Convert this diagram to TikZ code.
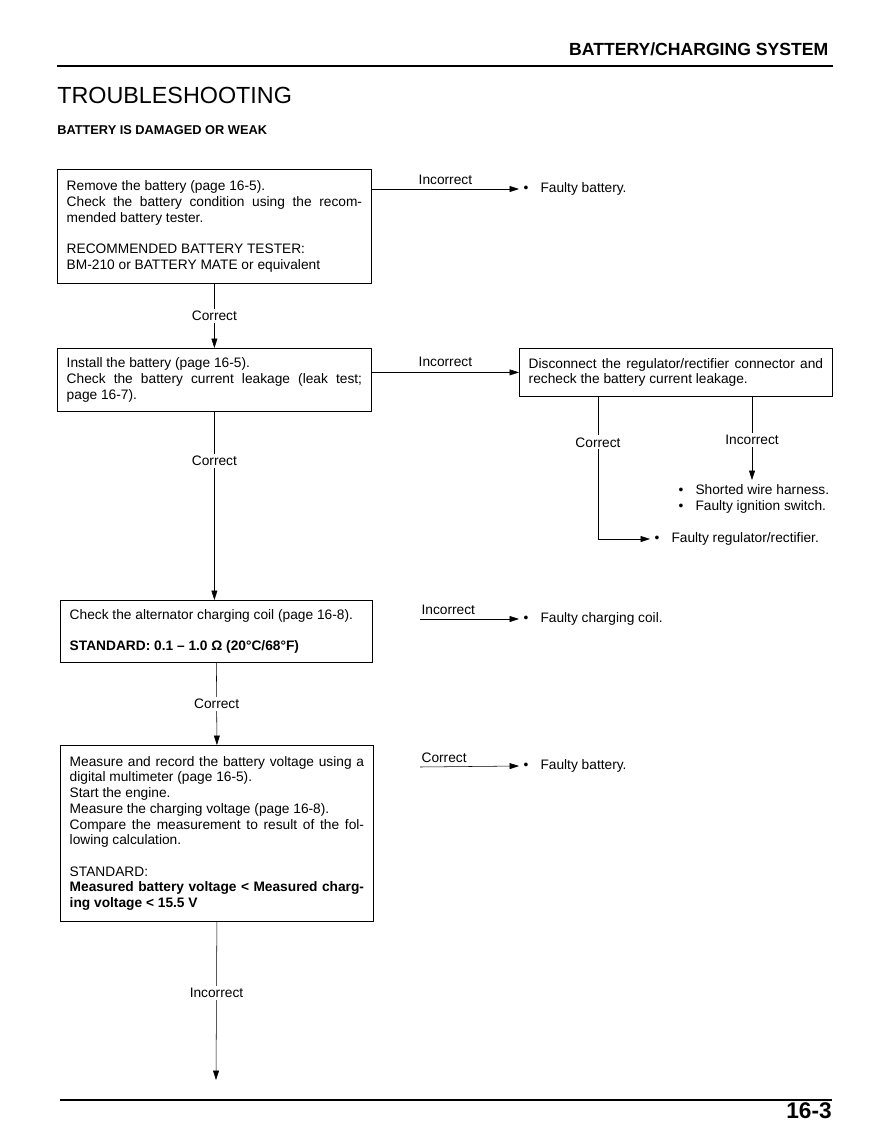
\documentclass[tikz,border=0pt]{standalone}
\usepackage{fontspec}
\setmainfont{Liberation Sans}
\usetikzlibrary{arrows.meta,positioning,calc}

\begin{document}
\begin{tikzpicture}[x=0.75pt, y=-0.75pt,
    box/.style={draw, line width=0.6pt, anchor=north west, align=justify,
      inner xsep=7pt, inner ysep=4pt, font=\fontsize{10.3}{11.8}\selectfont},
    arr/.style={line width=0.4pt, -{Triangle[length=7pt, width=4.4pt]}},
    lbl/.style={fill=white, inner sep=1.5pt, font=\fontsize{10.3}{11.8}\selectfont},
    tag/.style={inner sep=1pt, font=\fontsize{10.3}{11.8}\selectfont},
    res/.style={anchor=west, align=left, font=\fontsize{10.3}{11.8}\selectfont}]
  \useasboundingbox (0,0) rectangle (878,1123);

  % page head
  \node[anchor=base east, font=\bfseries\fontsize{13.2}{15}\selectfont] (head) at (833,56) {BATTERY/CHARGING SYSTEM};
  \draw[line width=2.2pt] (57,66) -- (833,66);
  \node[anchor=base west, inner sep=0pt, font=\fontsize{17.5}{20}\selectfont] (title) at (57,104) {TROUBLESHOOTING};
  \node[anchor=base west, inner sep=0pt, font=\bfseries\fontsize{9.6}{11}\selectfont] (sub) at (57,135) {BATTERY IS DAMAGED OR WEAK};

  % steps
  \node[box, text width=221.5pt, minimum height=85.5pt] (b1) at (57,169)
    {Remove the battery (page 16-5).\\
     Check the battery condition using the recom-\linebreak mended battery tester.\\[11.8pt]
     RECOMMENDED BATTERY TESTER:\\
     BM-210 or BATTERY MATE or equivalent};
  \node[box, text width=221.5pt, minimum height=47.25pt] (b2) at (57,348)
    {Install the battery (page 16-5).\\
     Check the battery current leakage (leak test;\linebreak page 16-7).};
  \node[box, text width=220.75pt, minimum height=36pt] (b3) at (519,348)
    {Disconnect the regulator/rectifier connector and\linebreak recheck the battery current leakage.};
  \node[box, text width=220pt, minimum height=46.5pt] (b4) at (60,600)
    {Check the alternator charging coil (page 16-8).\\[11.8pt]
     \textbf{STANDARD: 0.1 – 1.0 Ω (20°C/68°F)}};
  \node[box, text width=220.75pt, minimum height=132pt] (b5) at (60,745)
    {Measure and record the battery voltage using a\linebreak digital multimeter (page 16-5).\\
     Start the engine.\\
     Measure the charging voltage (page 16-8).\\
     Compare the measurement to result of the fol-\linebreak lowing calculation.\\[11.8pt]
     STANDARD:\\
     \textbf{Measured battery voltage < Measured charg-\linebreak ing voltage < 15.5 V}};

  % results
  \node[res] (fb1) at (519,189) {\textbullet\hspace{9pt}Faulty battery.};
  \node[res, anchor=north west] (sw) at (674,480)
    {\textbullet\hspace{9pt}Shorted wire harness.\\ \textbullet\hspace{9pt}Faulty ignition switch.};
  \node[res] (fr) at (650,539) {\textbullet\hspace{9pt}Faulty regulator/rectifier.};
  \node[res] (fcc) at (519,619) {\textbullet\hspace{9pt}Faulty charging coil.};
  \node[res] (fb2) at (519,766) {\textbullet\hspace{9pt}Faulty battery.};

  \coordinate (c3a) at ($(b3.south west)+(79,0)$);
  \coordinate (c3b) at ($(b3.south west)+(233,0)$);
  \coordinate (c4) at (420,619);
  \coordinate (c5) at (420,767);
  \coordinate (end) at (216,1080);

  % connectors
  \draw[arr] (b1.east |- fb1.west) -- node[tag, above=2pt]{Incorrect} (fb1.west);
  \draw[arr] (b1.south) -- node[lbl]{Correct} (b2.north);
  \draw[arr] (b2.east |- b3.west) -- node[tag, above=3pt]{Incorrect} (b3.west);
  \draw[arr] (c3a) |- node[lbl, pos=0.16]{Correct} (fr.west);
  \draw[arr] (c3b) -- node[lbl, pos=0.52]{Incorrect} (c3b |- sw.north);
  \draw[arr] (b2.south) -- node[lbl, pos=0.26]{Correct} (b2.south |- b4.north);
  \draw[arr] (c4) -- node[tag, pos=0, anchor=south west, yshift=2pt]{Incorrect} (fcc.west);
  \draw[arr] (b4.south) -- node[lbl]{Correct} (b5.north);
  \draw[arr] (c5) -- node[tag, pos=0, anchor=south west, yshift=2pt]{Correct} (fb2.west);
  \draw[arr] (b5.south) -- node[lbl, pos=0.45]{Incorrect} (end);

  % page foot
  \draw[line width=2.2pt] (60,1100) -- (832,1100);
  \node[anchor=base east, inner sep=0pt, font=\bfseries\fontsize{17}{19}\selectfont] (pg) at (832,1118) {16-3};
\end{tikzpicture}
\end{document}
